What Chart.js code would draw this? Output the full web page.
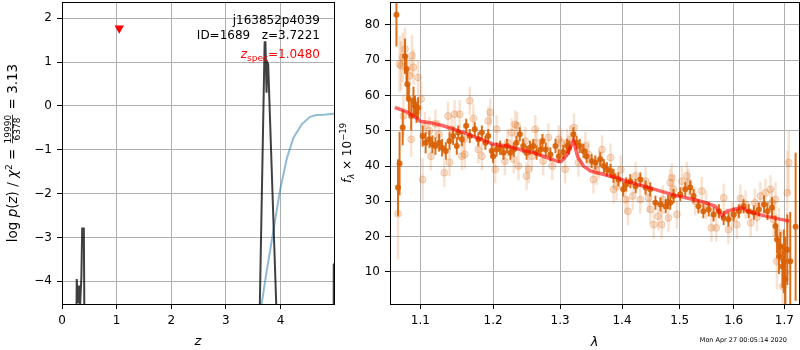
<!DOCTYPE html>
<html>
<head>
<meta charset="utf-8">
<script src="https://cdn.jsdelivr.net/npm/chart.js@4.4.1/dist/chart.umd.min.js"></script>
<style>
html, body { margin: 0; padding: 0; background: #fff; }
#wrap { position: relative; width: 800px; height: 350px; }
canvas { position: absolute; top: 0; }
</style>
</head>
<body>
<div id="wrap">
  <canvas id="pz" width="336" height="350" style="left:0"></canvas>
  <canvas id="sp" width="464" height="350" style="left:336px"></canvas>
</div>
<script>
// ---- left panel: p(z)
const objName = 'j163852p4039'
const objId = 1689
const zBest = 3.7221
const zSpec = 1.0480
const zSpecMark = 1.77
const pzZ   = [0.25, 0.27, 0.29, 0.31, 0.33, 0.355, 0.37, 0.40, 0.42, 3.60, 3.615, 3.71, 3.725, 3.745, 3.76, 3.775, 3.935, 4.96, 4.975, 4.99]
const pzLog = [-7, -3.95, -4.5, -4.1, -4.6, -3.9, -2.8, -2.8, -7, -7, -5.0, 1.45, 1.45, 0.3, 0.99, 0.95, -5.0, -20, -3.62, -3.6]
const priorZ   = [3.62, 3.655, 3.75, 3.87, 3.99, 4.12, 4.24, 4.39, 4.54, 4.66, 4.79, 4.98]
const priorLog = [-5.2, -4.52, -3.75, -2.85, -1.94, -1.18, -0.72, -0.42, -0.25, -0.21, -0.2, -0.18]
const zTicks = [0, 1, 2, 3, 4]
const logTicks = [-4, -3, -2, -1, 0, 1, 2]

// ---- right panel: spectrum
const modelLam  = [1.067, 1.082, 1.097, 1.100, 1.113, 1.129, 1.146, 1.162, 1.182, 1.200, 1.220, 1.239, 1.259, 1.280, 1.295, 1.302, 1.310, 1.321, 1.328, 1.337, 1.348, 1.370, 1.391, 1.407, 1.437, 1.466, 1.492, 1.525, 1.547, 1.565, 1.578, 1.587, 1.616, 1.627, 1.662, 1.710]
const modelFlux = [56.6, 55.4, 53.3, 52.7, 52.3, 51.5, 50.4, 49.2, 47.6, 46.2, 45.7, 44.7, 43.8, 42.4, 41.4, 41.3, 43.0, 47.1, 42.5, 40.0, 38.6, 37.6, 36.7, 35.7, 34.3, 32.9, 31.7, 30.5, 29.6, 28.6, 25.9, 27.2, 28.2, 27.2, 25.8, 24.4]

const specLam  = [1.069, 1.071, 1.073, 1.077, 1.080, 1.082, 1.083, 1.085, 1.088, 1.091, 1.093, 1.095, 1.097, 1.103, 1.107, 1.112, 1.116, 1.120, 1.125, 1.129, 1.134, 1.139, 1.144, 1.149, 1.151, 1.156, 1.162, 1.167, 1.174, 1.179, 1.184, 1.189, 1.193, 1.198, 1.200, 1.205, 1.210, 1.215, 1.220, 1.225, 1.230, 1.234, 1.239, 1.244, 1.249, 1.254, 1.259, 1.264, 1.270, 1.273, 1.278, 1.285, 1.293, 1.298, 1.305, 1.311, 1.314, 1.321, 1.326, 1.331, 1.337, 1.342, 1.350, 1.356, 1.364, 1.370, 1.375, 1.381, 1.386, 1.394, 1.402, 1.407, 1.414, 1.423, 1.431, 1.440, 1.448, 1.457, 1.466, 1.475, 1.479, 1.483, 1.489, 1.501, 1.510, 1.519, 1.525, 1.534, 1.543, 1.553, 1.562, 1.572, 1.581, 1.590, 1.600, 1.610, 1.619, 1.629, 1.639, 1.649, 1.659, 1.666, 1.675, 1.682, 1.685, 1.689, 1.692, 1.696, 1.699, 1.702, 1.706, 1.712, 1.723]
const specFlux = [82.9, 33.9, 40.7, 50.9, 71.1, 67.5, 63.2, 59.0, 54.2, 58.5, 57.0, 55.2, 56.5, 48.5, 46.6, 47.6, 46.2, 45.7, 46.6, 45.2, 44.3, 47.1, 48.5, 45.7, 49.5, 47.6, 51.4, 48.5, 50.4, 47.6, 49.5, 46.6, 48.5, 44.3, 42.8, 44.7, 45.2, 43.8, 45.7, 43.8, 44.7, 46.6, 49.0, 45.7, 43.8, 45.2, 45.7, 43.8, 44.7, 47.1, 44.7, 43.3, 45.7, 42.8, 44.0, 45.7, 45.2, 49.0, 46.6, 45.7, 44.3, 42.8, 41.4, 41.0, 41.9, 40.0, 39.1, 38.6, 37.2, 36.2, 33.4, 34.8, 35.7, 34.3, 36.2, 33.9, 33.4, 29.6, 29.1, 28.6, 29.8, 29.6, 31.5, 32.0, 33.4, 33.9, 31.5, 28.6, 27.2, 27.7, 26.3, 27.2, 25.3, 24.9, 26.3, 27.2, 28.6, 27.2, 26.8, 27.7, 29.1, 27.2, 28.2, 23.0, 19.2, 14.4, 17.3, 11.5, 13.0, 8.0, 16.3, 13.0, 22.8]
const specErr  = [9, 8, 9, 5, 5, 4, 4, 4, 4, 4, 3, 3, 3, 3, 3, 2.5, 2.5, 2.5, 2.5, 2.5, 2.5, 2.5, 2.5, 2.5, 2, 2, 2, 2, 2, 2, 2, 2, 2, 2, 2, 2, 2, 2, 2, 2, 2, 2, 2, 2, 2, 2, 2, 2, 2, 2, 2, 2, 2, 2, 2, 2, 2, 2, 2, 2, 2, 2, 2, 2, 2, 2, 2, 2, 2, 2, 2, 2, 2, 2, 2, 2, 2, 2, 2, 2, 2, 2, 2, 2, 2, 2, 2, 2, 2, 2, 2, 2, 2, 2, 2, 2, 2, 2, 2, 2, 2.5, 2.5, 3, 3, 4, 5, 4, 6, 9, 12, 10, 14, 21]

const spec2Lam  = [1.071, 1.073, 1.075, 1.077, 1.078, 1.080, 1.086, 1.088, 1.089, 1.091, 1.097, 1.101, 1.103, 1.106, 1.112, 1.114, 1.120, 1.125, 1.132, 1.137, 1.139, 1.142, 1.146, 1.153, 1.156, 1.159, 1.160, 1.167, 1.172, 1.179, 1.184, 1.193, 1.196, 1.203, 1.205, 1.217, 1.221, 1.227, 1.230, 1.232, 1.235, 1.237, 1.247, 1.249, 1.252, 1.257, 1.262, 1.264, 1.274, 1.282, 1.288, 1.298, 1.302, 1.308, 1.311, 1.316, 1.322, 1.329, 1.340, 1.345, 1.353, 1.358, 1.362, 1.367, 1.381, 1.386, 1.391, 1.398, 1.406, 1.410, 1.418, 1.423, 1.431, 1.440, 1.445, 1.448, 1.454, 1.462, 1.468, 1.470, 1.480, 1.483, 1.486, 1.489, 1.495, 1.504, 1.513, 1.516, 1.528, 1.540, 1.548, 1.558, 1.567, 1.581, 1.590, 1.597, 1.606, 1.613, 1.623, 1.633, 1.641, 1.645, 1.652, 1.662, 1.672, 1.675, 1.678, 1.682, 1.685, 1.689, 1.697, 1.702, 1.706, 1.709]
const spec2Flux = [26.5, 68.9, 68.4, 70.8, 54.2, 73.2, 65.6, 47.6, 71.3, 68.0, 65.1, 59.0, 36.2, 51.4, 50.0, 42.8, 52.0, 49.0, 38.1, 54.2, 41.1, 50.4, 54.7, 54.7, 42.8, 47.6, 43.3, 58.5, 53.5, 44.7, 42.8, 52.8, 55.2, 39.1, 50.4, 41.4, 46.6, 49.5, 41.9, 51.8, 51.4, 40.0, 47.1, 37.2, 39.1, 42.8, 50.4, 46.6, 41.4, 48.1, 40.0, 47.6, 46.6, 39.1, 46.6, 47.6, 50.9, 41.0, 45.7, 43.3, 36.2, 38.6, 40.5, 44.7, 42.4, 33.4, 34.3, 39.0, 30.5, 27.2, 31.5, 37.2, 30.5, 35.7, 31.0, 27.7, 23.4, 25.8, 23.4, 30.5, 25.3, 35.3, 36.7, 33.4, 26.3, 35.7, 37.2, 35.3, 30.0, 32.9, 29.0, 22.5, 22.5, 31.0, 22.0, 25.8, 23.4, 30.8, 29.1, 23.9, 29.6, 25.5, 31.5, 32.4, 33.4, 29.6, 24.9, 30.5, 13.0, 21.1, 5.9, 9.7, 32.4, 41.0]
const spec2Err  = [13, 8, 7, 7, 6, 6, 5, 5, 6, 5, 5, 5, 6, 4, 4, 4, 4, 4, 4, 4, 4, 4, 4, 4, 4, 4, 4, 4, 4, 4, 4, 4, 4, 4, 4, 4, 4, 4, 4, 4, 4, 4, 4, 4, 4, 4, 4, 4, 4, 4, 4, 4, 4, 4, 4, 4, 4, 4, 4, 4, 4, 4, 4, 4, 4, 4, 4, 4, 4, 4, 4, 4, 4, 4, 4, 4, 4, 4, 4, 4, 4, 4, 4, 4, 4, 4, 4, 4, 4, 4, 4, 4, 4, 4, 4, 4, 4, 4, 4, 4, 4, 4, 4, 4, 4, 4, 5, 5, 8, 7, 10, 10, 12, 9]
const lamTicks = [1.1, 1.2, 1.3, 1.4, 1.5, 1.6, 1.7]
const fluxTicks = [10, 20, 30, 40, 50, 60, 70, 80]
const stamp = 'Mon Apr 27 00:05:14 2020'

const FONT = '"DejaVu Sans"'
Chart.defaults.font.family = 'DejaVu Sans'
Chart.defaults.font.size = 12
Chart.defaults.color = '#000'

function zip(xs, ys) {
    return xs.map((x, i) => ({ x: x, y: ys[i] }))
}
function minus(v) {
    return v < 0 ? '\u2212' + Math.abs(v) : String(v)
}

// draws a run of text pieces (for the little math labels)
function drawRuns(ctx, runs, x, y) {
    let w = 0
    runs.forEach(r => {
        ctx.font = r.f
        r.w = r.frac ? Math.max(ctx.measureText(r.frac[0]).width, ctx.measureText(r.frac[1]).width) + 2 : ctx.measureText(r.t).width
        w += r.w
    })
    let cx = x - w / 2
    ctx.textAlign = 'left'
    ctx.textBaseline = 'alphabetic'
    runs.forEach(r => {
        ctx.font = r.f
        if (r.frac) {
            let mid = y - 4.5
            ctx.textAlign = 'center'
            ctx.fillText(r.frac[0], cx + r.w / 2, mid - 1.5)
            ctx.fillText(r.frac[1], cx + r.w / 2, mid + 7.5)
            ctx.fillRect(cx + 1, mid - 0.4, r.w - 2, 0.8)
            ctx.textAlign = 'left'
        } else {
            ctx.fillText(r.t, cx, y + (r.dy || 0))
        }
        cx += r.w
    })
}

function frame(chart) {
    const ctx = chart.ctx, a = chart.chartArea
    ctx.save()
    ctx.strokeStyle = '#000'
    ctx.lineWidth = 1
    ctx.strokeRect(Math.round(a.left) + 0.5, Math.round(a.top) + 0.5, Math.round(a.right - a.left), Math.round(a.bottom - a.top))
    ctx.restore()
}

// fixed axis size, no extra label padding so the plot box lands where it should
function fitX(h) {
    return s => { s.height = h; s.paddingLeft = 0; s.paddingRight = 0; s.paddingTop = 0; s.paddingBottom = 0 }
}
function fitY(w) {
    return s => { s.width = w; s.paddingLeft = 0; s.paddingRight = 0; s.paddingTop = 0; s.paddingBottom = 0 }
}

function axis(min, max, ticks, fit, extra) {
    return Object.assign({
        min: min, max: max,
        afterBuildTicks: s => { s.ticks = ticks.map(v => ({ value: v })) },
        afterFit: fit,
        grid: { color: '#b0b0b0', lineWidth: 1, tickColor: '#000', tickLength: 5 },
        border: { display: false },
        ticks: { autoSkip: false, maxRotation: 0, padding: 5, font: { size: 12 }, color: '#000' }
    }, extra || {})
}

const pzExtras = {
    id: 'pzExtras',
    afterDraw(chart) {
        frame(chart)
        const ctx = chart.ctx
        ctx.save()
        ctx.fillStyle = '#000'
        ctx.font = '12px ' + FONT
        ctx.textAlign = 'right'
        ctx.fillText(objName, 320, 24)
        ctx.fillText('ID=' + objId + '   z=' + zBest.toFixed(4), 320, 39)
        // z_spec
        ctx.fillStyle = '#ff0000'
        let s = '=' + zSpec.toFixed(4)
        ctx.fillText(s, 320, 58)
        let w = ctx.measureText(s).width
        ctx.font = '9px ' + FONT
        ctx.fillText('spec', 320 - w, 61)
        let w2 = ctx.measureText('spec').width
        ctx.font = 'italic 12px ' + FONT
        ctx.fillText('z', 320 - w - w2, 58)
        // x title
        ctx.fillStyle = '#000'
        ctx.textAlign = 'center'
        ctx.font = 'italic 13px ' + FONT
        ctx.fillText('z', (chart.chartArea.left + chart.chartArea.right) / 2, 345)
        // y title
        ctx.translate(12, (chart.chartArea.top + chart.chartArea.bottom) / 2)
        ctx.rotate(-Math.PI / 2)
        const n = '13.5px ' + FONT, it = 'italic 13.5px ' + FONT, sm = '9px ' + FONT
        drawRuns(ctx, [
            { t: 'log ', f: n }, { t: 'p', f: it }, { t: '(', f: n }, { t: 'z', f: it }, { t: ') / ', f: n },
            { t: '\u03c7', f: it }, { t: '2', f: sm, dy: -5 }, { t: ' = ', f: n },
            { frac: ['19990', '6378'], f: sm }, { t: ' = 3.13', f: n }
        ], 0, 5)
        ctx.restore()
    }
}

const errorBars = {
    id: 'errorBars',
    beforeDatasetDraw(chart, args) {
        const ds = chart.data.datasets[args.index]
        if (!ds.errors) return
        const ctx = chart.ctx, xs = chart.scales.x, ys = chart.scales.y, a = chart.chartArea
        ctx.save()
        ctx.beginPath()
        ctx.rect(a.left, a.top, a.right - a.left, a.bottom - a.top)
        ctx.clip()
        ctx.strokeStyle = ds.errColor
        ctx.lineWidth = ds.errWidth
        ds.data.forEach((p, i) => {
            let px = xs.getPixelForValue(p.x)
            ctx.beginPath()
            ctx.moveTo(px, ys.getPixelForValue(p.y - ds.errors[i]))
            ctx.lineTo(px, ys.getPixelForValue(p.y + ds.errors[i]))
            ctx.stroke()
        })
        ctx.restore()
    }
}

const specExtras = {
    id: 'specExtras',
    afterDraw(chart) {
        frame(chart)
        const ctx = chart.ctx, a = chart.chartArea
        ctx.save()
        ctx.fillStyle = '#000'
        ctx.textAlign = 'center'
        ctx.font = 'italic 13px ' + FONT
        ctx.fillText('\u03bb', (a.left + a.right) / 2, 346)
        ctx.font = '6.5px ' + FONT
        ctx.textAlign = 'right'
        ctx.fillText(stamp, 451, 342)
        ctx.translate(15, (a.top + a.bottom) / 2)
        ctx.rotate(-Math.PI / 2)
        drawRuns(ctx, [
            { t: 'f', f: 'italic 12px ' + FONT }, { t: '\u03bb', f: 'italic 8.5px ' + FONT, dy: 3 },
            { t: ' \u00d7 10', f: '12px ' + FONT }, { t: '\u221219', f: '8.5px ' + FONT, dy: -5 }
        ], 0, 0)
        ctx.restore()
    }
}

new Chart(document.getElementById('pz'), {
    type: 'scatter',
    data: {
        datasets: [
            { data: [{ x: zSpec, y: zSpecMark }], pointStyle: 'triangle', rotation: 180, pointRadius: 5.5, backgroundColor: '#ff0000', borderColor: '#ff0000', borderWidth: 0, order: 0 },
            { data: zip(pzZ, pzLog), showLine: true, borderColor: 'rgba(0,0,0,0.75)', borderWidth: 2, pointRadius: 0, order: 1 },
            { data: zip(priorZ, priorLog), showLine: true, borderColor: 'rgba(31,119,180,0.5)', borderWidth: 2, pointRadius: 0, order: 2 }
        ]
    },
    options: {
        responsive: false, animation: false, devicePixelRatio: 1, events: [],
        layout: { autoPadding: false, padding: { left: 0, right: 2, top: 2, bottom: 0 } },
        plugins: { legend: { display: false }, tooltip: { enabled: false } },
        scales: {
            x: axis(0, 4.98, zTicks, fitX(46), { type: 'linear' }),
            y: axis(-4.52, 2.37, logTicks, fitY(62), { type: 'linear' })
        }
    },
    plugins: [pzExtras]
})
// tick labels with proper minus sign
const pzChart = Chart.getChart('pz')
pzChart.options.scales.y.ticks.callback = v => minus(v)
pzChart.update()

new Chart(document.getElementById('sp'), {
    type: 'scatter',
    data: {
        datasets: [
            { data: zip(modelLam, modelFlux), showLine: true, borderColor: 'rgba(255,0,0,0.6)', borderWidth: 3.5, pointRadius: 0, order: 0 },
            { data: zip(specLam, specFlux), errors: specErr, errColor: 'rgba(217,95,2,0.9)', errWidth: 2, pointRadius: 3, backgroundColor: 'rgba(217,95,2,0.9)', borderWidth: 0, order: 1 },
            { data: zip(spec2Lam, spec2Flux), errors: spec2Err, errColor: 'rgba(217,95,2,0.18)', errWidth: 2.5, pointRadius: 3.5, backgroundColor: 'rgba(217,95,2,0.2)', borderColor: 'rgba(217,95,2,0.22)', borderWidth: 1, order: 2 }
        ]
    },
    options: {
        responsive: false, animation: false, devicePixelRatio: 1, events: [],
        layout: { autoPadding: false, padding: { left: 0, right: 1, top: 2, bottom: 0 } },
        plugins: { legend: { display: false }, tooltip: { enabled: false } },
        scales: {
            x: axis(1.0608, 1.730, lamTicks, fitX(46), { type: 'logarithmic' }),
            y: axis(0.9, 86.5, fluxTicks, fitY(54), { type: 'linear' })
        }
    },
    plugins: [errorBars, specExtras]
})
const spChart = Chart.getChart('sp')
spChart.options.scales.x.ticks.callback = v => Number(v).toFixed(1)
spChart.update()
</script>
</body>
</html>
